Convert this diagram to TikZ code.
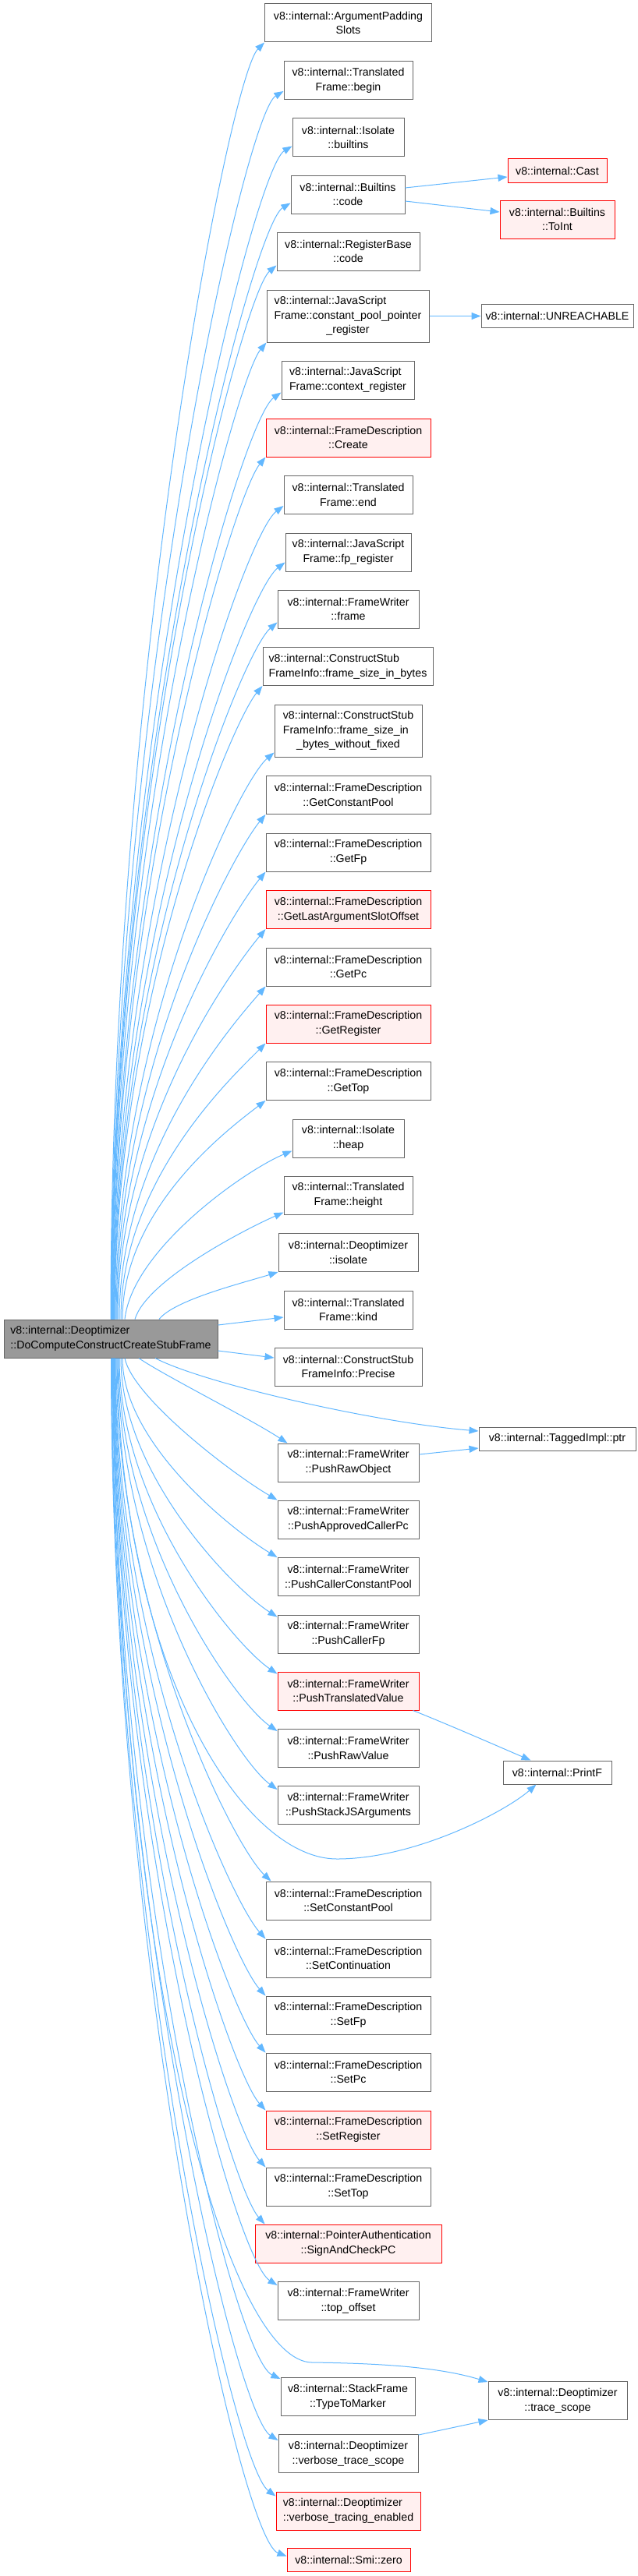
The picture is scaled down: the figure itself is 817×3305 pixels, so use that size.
\documentclass[tikz,border=0pt]{standalone}
\usepackage{fontspec}
\setmainfont{Liberation Sans}
\usetikzlibrary{arrows.meta}
\definecolor{edgeblue}{HTML}{63B8FF}
\definecolor{nodegray}{HTML}{666666}
\definecolor{mainfill}{HTML}{999999}
\definecolor{redfill}{HTML}{FFF0F0}
\definecolor{redline}{HTML}{FF0000}
\tikzset{
  nbox/.style={draw=nodegray, fill=white, line width=1pt, inner sep=0pt, text=black,
    font=\fontsize{14.2}{18.7}\selectfont, align=center, minimum height=49pt},
  rbox/.style={nbox, draw=redline, fill=redfill},
  mbox/.style={nbox, fill=mainfill, align=left},
  link/.style={draw=edgeblue, line width=1pt, -{Triangle[length=12pt,width=9pt]}}
}
\begin{document}
\begin{tikzpicture}[x=1pt,y=-1pt]
\fill[white] (0,0) rectangle (817,3305);
\useasboundingbox (0,0) rectangle (817,3305);
% main
\node[mbox, minimum width=274pt] (main) at (142,1717.5) {v8::internal::Deoptimizer\\::DoComputeConstructCreateStubFrame};
% column 2
\node[nbox, minimum width=214pt] (aps) at (446.5,29.5) {v8::internal::ArgumentPadding\\Slots};
\node[nbox, minimum width=165pt] (tfbegin) at (446.5,103) {v8::internal::Translated\\Frame::begin};
\node[nbox, minimum width=143pt] (builtins) at (446.5,176.5) {v8::internal::Isolate\\::builtins};
\node[nbox, minimum width=146pt] (code) at (446,249.5) {v8::internal::Builtins\\::code};
\node[nbox, minimum width=183pt] (rb) at (446.5,322.5) {v8::internal::RegisterBase\\::code};
\node[nbox, minimum width=208pt, minimum height=67pt] (cpp) at (446,405.5) {\begin{tabular}{@{}l@{}}v8::internal::JavaScript\\Frame::constant\_pool\_pointer\\\multicolumn{1}{@{}c@{}}{\_register}\end{tabular}};
\node[nbox, minimum width=170pt, align=left] (ctx) at (446,487.5) {v8::internal::JavaScript\\Frame::context\_register};
\node[rbox, minimum width=211pt] (create) at (446.5,561.5) {v8::internal::FrameDescription\\::Create};
\node[nbox, minimum width=165pt] (tfend) at (446.5,635) {v8::internal::Translated\\Frame::end};
\node[nbox, minimum width=161pt] (fpreg) at (446.5,708.5) {v8::internal::JavaScript\\Frame::fp\_register};
\node[nbox, minimum width=181pt] (frame) at (446.5,781.5) {v8::internal::FrameWriter\\::frame};
\node[nbox, minimum width=218pt, align=left] (fsib) at (446,855) {v8::internal::ConstructStub\\FrameInfo::frame\_size\_in\_bytes};
\node[nbox, minimum width=189pt, minimum height=67pt] (fsibwf) at (446.5,937.5) {\begin{tabular}{@{}l@{}}v8::internal::ConstructStub\\FrameInfo::frame\_size\_in\\\multicolumn{1}{@{}c@{}}{\_bytes\_without\_fixed}\end{tabular}};
\node[nbox, minimum width=211pt] (getcp) at (446.5,1020) {v8::internal::FrameDescription\\::GetConstantPool};
\node[nbox, minimum width=211pt] (getfp) at (446.5,1093.5) {v8::internal::FrameDescription\\::GetFp};
\node[rbox, minimum width=211pt] (getlast) at (446.5,1167) {v8::internal::FrameDescription\\::GetLastArgumentSlotOffset};
\node[nbox, minimum width=211pt] (getpc) at (446.5,1240.5) {v8::internal::FrameDescription\\::GetPc};
\node[rbox, minimum width=211pt] (getreg) at (446.5,1313.5) {v8::internal::FrameDescription\\::GetRegister};
\node[nbox, minimum width=211pt] (gettop) at (446.5,1387) {v8::internal::FrameDescription\\::GetTop};
\node[nbox, minimum width=143pt] (heap) at (446.5,1460.5) {v8::internal::Isolate\\::heap};
\node[nbox, minimum width=165pt] (height) at (446.5,1533.5) {v8::internal::Translated\\Frame::height};
\node[nbox, minimum width=179pt] (isolate) at (446.5,1607) {v8::internal::Deoptimizer\\::isolate};
\node[nbox, minimum width=165pt] (kind) at (446.5,1680.5) {v8::internal::Translated\\Frame::kind};
\node[nbox, minimum width=189pt] (precise) at (446.5,1753.5) {v8::internal::ConstructStub\\FrameInfo::Precise};
\node[nbox, minimum width=181pt] (prawobj) at (446.5,1876.5) {v8::internal::FrameWriter\\::PushRawObject};
\node[nbox, minimum width=181pt] (pacpc) at (446.5,1949.5) {v8::internal::FrameWriter\\::PushApprovedCallerPc};
\node[nbox, minimum width=181pt] (pccp) at (446.5,2023) {v8::internal::FrameWriter\\::PushCallerConstantPool};
\node[nbox, minimum width=181pt] (pcfp) at (446.5,2096.5) {v8::internal::FrameWriter\\::PushCallerFp};
\node[rbox, minimum width=181pt] (ptv) at (446.5,2169.5) {v8::internal::FrameWriter\\::PushTranslatedValue};
\node[nbox, minimum width=181pt] (prv) at (446.5,2243) {v8::internal::FrameWriter\\::PushRawValue};
\node[nbox, minimum width=181pt] (psjs) at (446.5,2316) {v8::internal::FrameWriter\\::PushStackJSArguments};
\node[nbox, minimum width=211pt] (setcp) at (446.5,2438.5) {v8::internal::FrameDescription\\::SetConstantPool};
\node[nbox, minimum width=211pt] (setcont) at (446.5,2512.5) {v8::internal::FrameDescription\\::SetContinuation};
\node[nbox, minimum width=211pt] (setfp) at (446.5,2585.5) {v8::internal::FrameDescription\\::SetFp};
\node[nbox, minimum width=211pt] (setpc) at (446.5,2658.5) {v8::internal::FrameDescription\\::SetPc};
\node[rbox, minimum width=211pt] (setreg) at (446.5,2732.5) {v8::internal::FrameDescription\\::SetRegister};
\node[nbox, minimum width=211pt] (settop) at (446.5,2805.5) {v8::internal::FrameDescription\\::SetTop};
\node[rbox, minimum width=239pt] (sign) at (446.5,2878.5) {v8::internal::PointerAuthentication\\::SignAndCheckPC};
\node[nbox, minimum width=181pt] (topoff) at (446.5,2952) {v8::internal::FrameWriter\\::top\_offset};
\node[nbox, minimum width=172pt] (ttm) at (446,3075) {v8::internal::StackFrame\\::TypeToMarker};
\node[nbox, minimum width=179pt] (vts) at (446.5,3148) {v8::internal::Deoptimizer\\::verbose\_trace\_scope};
\node[rbox, minimum width=185pt, align=left] (vte) at (446.5,3221.5) {v8::internal::Deoptimizer\\::verbose\_tracing\_enabled};
\node[rbox, minimum width=158pt, minimum height=30pt] (smi) at (447,3284) {v8::internal::Smi::zero};
% column 3
\node[rbox, minimum width=127pt, minimum height=30pt] (cast) at (714.5,219) {v8::internal::Cast};
\node[rbox, minimum width=147pt] (toint) at (714.5,281.5) {v8::internal::Builtins\\::ToInt};
\node[nbox, minimum width=195pt, minimum height=30pt] (unreach) at (714.5,405.5) {v8::internal::UNREACHABLE};
\node[nbox, minimum width=201pt, minimum height=30pt] (ptr) at (714.5,1846) {v8::internal::TaggedImpl::ptr};
\node[nbox, minimum width=139pt, minimum height=30pt] (printf) at (714.5,2274) {v8::internal::PrintF};
\node[nbox, minimum width=178pt] (tracescope) at (715,3080) {v8::internal::Deoptimizer\\::trace\_scope};
% upper edges
\draw[link] ([xshift=0pt]main.north) .. controls +(0,-820) and +(-45,45) .. (aps.south west);
\draw[link] ([xshift=0.5pt]main.north) .. controls +(0,-790) and +(-50,30) .. ([yshift=11pt]tfbegin.south west);
\draw[link] ([xshift=1pt]main.north) .. controls +(0,-753) and +(-50,30) .. ([yshift=14pt]builtins.south west);
\draw[link] ([xshift=1pt]main.north) .. controls +(0,-716) and +(-50,30) .. ([yshift=14pt]code.south west);
\draw[link] ([xshift=1.5pt]main.north) .. controls +(0,-676) and +(-45,38) .. ([yshift=7pt]rb.south west);
\draw[link] ([xshift=2pt]main.north) .. controls +(0,-627) and +(-40,48) .. (cpp.south west);
\draw[link] ([xshift=2.5pt]main.north) .. controls +(0,-595) and +(-50,35) .. ([yshift=9pt]ctx.south west);
\draw[link] ([xshift=3pt]main.north) .. controls +(0,-553) and +(-40,48) .. (create.south west);
\draw[link] ([xshift=3.5pt]main.north) .. controls +(0,-522) and +(-50,38) .. ([yshift=11pt]tfend.south west);
\draw[link] ([xshift=4pt]main.north) .. controls +(0,-486) and +(-50,38) .. ([yshift=12pt]fpreg.south west);
\draw[link] ([xshift=4.5pt]main.north) .. controls +(0,-447) and +(-45,38) .. ([yshift=8pt]frame.south west);
\draw[link] ([xshift=5pt]main.north) .. controls +(0,-407) and +(-40,48) .. (fsib.south west);
\draw[link] ([xshift=6pt]main.north) .. controls +(0,-364) and +(-45,38) .. ([yshift=6pt]fsibwf.south west);
\draw[link] ([xshift=7pt]main.north) .. controls +(0,-324) and +(-40,48) .. (getcp.south west);
\draw[link] ([xshift=8pt]main.north) .. controls +(0,-287) and +(-40,48) .. (getfp.south west);
\draw[link] ([xshift=9pt]main.north) .. controls +(0,-251) and +(-40,48) .. (getlast.south west);
\draw[link] ([xshift=11pt]main.north) .. controls +(0,-214) and +(-40,46) .. (getpc.south west);
\draw[link] ([xshift=13pt]main.north) .. controls +(0,-177) and +(-45,45) .. (getreg.south west);
\draw[link] ([xshift=15pt]main.north) .. controls +(0,-141) and +(-50,38) .. (gettop.south west);
\draw[link] ([xshift=18pt]main.north) .. controls +(10,-90) and +(-60,25) .. ([yshift=9pt]heap.south west);
\draw[link] ([xshift=31pt]main.north) .. controls +(15,-50) and +(-50,22) .. ([yshift=3pt]height.south west);
\draw[link] ([xshift=62pt]main.north) .. controls +(20,-25) and +(-45,14) .. (isolate.south west);
% side edges
\draw[link] ([yshift=17.5pt]main.east) -- ([yshift=-9.5pt]kind.west);
\draw[link] ([yshift=-15.5pt]main.east) -- ([yshift=11.5pt]precise.west);
% lower edges
\draw[link] ([xshift=57pt]main.south) .. controls +(61,32) and +(-134,-11) .. ([yshift=10pt]ptr.west);
\draw[link] ([xshift=36pt]main.south) .. controls +(32,22) and +(-49,-32) .. ([xshift=13pt]prawobj.north west);
\draw[link] ([xshift=18pt]main.south) .. controls +(10,50) and +(-60,-35) .. (pacpc.north west);
\draw[link] ([xshift=15pt]main.south) .. controls +(0,110) and +(-55,-33) .. (pccp.north west);
\draw[link] ([xshift=13pt]main.south) .. controls +(0,150) and +(-55,-35) .. ([yshift=-3pt]pcfp.north west);
\draw[link] ([xshift=11pt]main.south) .. controls +(0,190) and +(-55,-37) .. ([yshift=-3pt]ptv.north west);
\draw[link] ([xshift=10pt]main.south) .. controls +(0,230) and +(-55,-38) .. ([yshift=-3pt]prv.north west);
\draw[link] ([xshift=9pt]main.south) .. controls +(0,270) and +(-55,-40) .. ([yshift=-5pt]psjs.north west);
\draw[link] ([xshift=8pt]main.south) .. controls +(5,400) and +(-120,0) .. (432,2385) .. controls +(100,0) and +(-40,35) .. ([xshift=43pt]printf.south west);
\draw[link] ([xshift=7pt]main.south) .. controls +(0,330) and +(-48,-45) .. ([xshift=7pt]setcp.north west);
\draw[link] ([xshift=6pt]main.south) .. controls +(0,370) and +(-45,-50) .. (setcont.north west);
\draw[link] ([xshift=5.5pt]main.south) .. controls +(0,405) and +(-45,-50) .. (setfp.north west);
\draw[link] ([xshift=5pt]main.south) .. controls +(0,445) and +(-45,-50) .. (setpc.north west);
\draw[link] ([xshift=4.5pt]main.south) .. controls +(0,480) and +(-45,-50) .. (setreg.north west);
\draw[link] ([xshift=4pt]main.south) .. controls +(0,520) and +(-45,-50) .. (settop.north west);
\draw[link] ([xshift=3.5pt]main.south) .. controls +(0,555) and +(-45,-50) .. ([xshift=13pt]sign.north west);
\draw[link] ([xshift=3pt]main.south) .. controls +(0,595) and +(-55,-35) .. ([yshift=-5pt]topoff.north west);
\draw[link] ([xshift=2.5pt]main.south) .. controls +(0,655) and +(-60,-28) .. ([yshift=-2pt]ttm.north west);
\draw[link] ([xshift=2pt]main.south) .. controls +(10,850) and +(-100,-1) .. (400,3031) .. controls +(80,1) and +(-66,-20) .. ([yshift=-1pt]tracescope.north west);
\draw[link] ([xshift=1.5pt]main.south) .. controls +(0,695) and +(-55,-35) .. ([yshift=-8pt]vts.north west);
\draw[link] ([xshift=1pt]main.south) .. controls +(0,730) and +(-55,-40) .. ([yshift=-6pt]vte.north west);
\draw[link] ([xshift=0.5pt]main.south) .. controls +(0,770) and +(-60,-22) .. ([yshift=-11pt]smi.north west);
% other edges
\draw[link] ([yshift=8.5pt]code.east) -- ([yshift=-8pt]cast.west);
\draw[link] ([yshift=-8.5pt]code.east) -- ([yshift=9.5pt]toint.west);
\draw[link] (cpp.east) -- (unreach.west);
\draw[link] ([yshift=10.5pt]prawobj.east) -- ([yshift=-12pt]ptr.west);
\draw[link] ([xshift=-8pt]ptv.south east) .. controls +(50,20) and +(-35,-15) .. ([xshift=36pt]printf.north west);
\draw[link] ([yshift=-1pt]vts.north east) -- (tracescope.south west);
\end{tikzpicture}
\end{document}
